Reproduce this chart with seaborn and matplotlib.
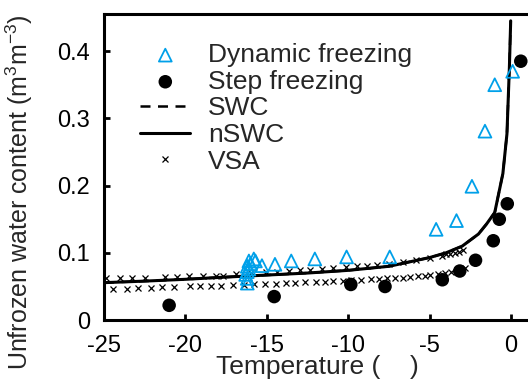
import numpy as np
import pandas as pd
import matplotlib
matplotlib.use("Agg")
import matplotlib.pyplot as plt
import seaborn as sns

# measured data
dyn_t = [0.1, -1.0, -1.6, -2.4, -3.35, -4.6, -7.45, -10.1, -12.05, -13.5, -14.5, -15.3, -15.7,
         -16.2, -16.2, -16.3, -16.2, -16.1, -16.2, -16.0, -16.1, -15.8]
dyn_w = [0.370, 0.350, 0.281, 0.199, 0.148, 0.135, 0.094, 0.094, 0.091, 0.088, 0.083, 0.081, 0.088,
         0.055, 0.062, 0.068, 0.072, 0.076, 0.080, 0.084, 0.088, 0.091]

step_t = [0.6, -0.23, -0.72, -1.09, -2.18, -3.15, -4.22, -7.74, -9.84, -14.55, -21.0]
step_w = [0.385, 0.173, 0.150, 0.118, 0.089, 0.073, 0.060, 0.050, 0.053, 0.035, 0.022]

# fitted curves
curve_t = [-25, -22.5, -20, -17.5, -15, -12.5, -10, -7.5, -5, -4, -3, -2, -1.5, -1, -0.5, -0.25, -0.1, -0.02]
nswc_w = [0.0557, 0.058, 0.0607, 0.064, 0.067, 0.070, 0.074, 0.080, 0.093, 0.100, 0.110, 0.128, 0.143,
          0.160, 0.218, 0.277, 0.376, 0.445]
swc_w = nswc_w

vsa_up_t = [-24.86, -23.99, -23.27, -22.49, -21.25, -20.49, -19.75, -18.95, -18.15, -17.70, -16.87, -15.97,
            -15.08, -14.40, -13.64, -12.96, -12.35, -11.58, -10.91, -10.14, -9.46, -8.85, -8.23, -7.47,
            -6.65, -5.82, -5.0, -4.22, -3.97, -3.73, -3.46, -3.21, -2.94]
vsa_up_w = [0.062, 0.062, 0.063, 0.063, 0.064, 0.064, 0.065, 0.065, 0.066, 0.066, 0.068, 0.070,
            0.071, 0.072, 0.073, 0.074, 0.075, 0.076, 0.077, 0.079, 0.080, 0.081, 0.082, 0.084,
            0.087, 0.089, 0.092, 0.096, 0.098, 0.099, 0.100, 0.102, 0.104]
vsa_lo_t = [-24.44, -23.58, -22.9, -22.14, -21.42, -20.68, -19.71, -19.09, -18.44, -17.82, -17.1, -16.42,
            -15.8, -15.14, -14.46, -13.85, -13.27, -12.65, -11.99, -11.44, -10.91, -10.35, -9.84, -9.22,
            -8.6, -8.09, -7.61, -7.12, -6.65, -6.19, -5.72, -5.31, -5.0, -4.49, -4.07, -3.66, -3.25, -2.84]
vsa_lo_w = [0.047, 0.047, 0.048, 0.048, 0.049, 0.049, 0.050, 0.050, 0.051, 0.051, 0.052, 0.052,
            0.053, 0.053, 0.054, 0.055, 0.055, 0.056, 0.057, 0.057, 0.058, 0.058, 0.059, 0.060,
            0.061, 0.061, 0.062, 0.063, 0.063, 0.064, 0.065, 0.066, 0.067, 0.069, 0.070, 0.072, 0.074, 0.077]

sns.set_theme(style="ticks")
plt.rcParams['font.family'] = ['Liberation Sans', 'DejaVu Sans']
plt.rcParams['axes.unicode_minus'] = False
plt.rcParams['mathtext.fontset'] = 'custom'
plt.rcParams['mathtext.rm'] = 'Liberation Sans'
plt.rcParams['mathtext.it'] = 'Liberation Sans'
blue = '#00A0E9'
fs = 17

fig = plt.figure(figsize=(5.28, 3.82), dpi=100)
ax = fig.add_axes([0.197, 0.162, 0.81, 0.801])

sns.lineplot(x=curve_t, y=swc_w, ax=ax, color='black', lw=1.8, linestyle=(0, (4, 3)), label='SWC', sort=True)
sns.lineplot(x=curve_t, y=nswc_w, ax=ax, color='black', lw=2.2, label='nSWC', sort=True)
ax.plot(vsa_up_t + vsa_lo_t, vsa_up_w + vsa_lo_w, ls='none', marker='x', ms=4, mew=0.9,
        color='black', label='VSA')
sns.scatterplot(x=dyn_t, y=dyn_w, ax=ax, marker='^', s=85, facecolor='none', edgecolor=blue,
                linewidth=1.3, label='Dynamic freezing', zorder=4)
sns.scatterplot(x=step_t, y=step_w, ax=ax, marker='o', s=95, color='black', edgecolor='none',
                label='Step freezing', zorder=4)

ax.set_xlim(-25, 1.27)
ax.set_ylim(0, 0.455)
ax.set_xticks([-25, -20, -15, -10, -5, 0])
ax.set_yticks([0, 0.1, 0.2, 0.3, 0.4])
ax.set_yticklabels(['0', '0.1', '0.2', '0.3', '0.4'])
ax.tick_params(direction='in', length=4, width=2, labelsize=fs, colors='black')
ax.tick_params(axis='x', pad=11)
ax.tick_params(axis='y', pad=10)
for s in ax.spines.values():
    s.set_linewidth(2.2)
    s.set_color('black')

ax.set_xlabel('Temperature (    )', fontsize=19)
ax.xaxis.set_label_coords(0.5, -0.115)
ax.set_ylabel('Unfrozen water content (m$^3$m$^{-3}$)', fontsize=18)
ax.yaxis.set_label_coords(-0.162, 0.42)

h, l = ax.get_legend_handles_labels()
order = [l.index(n) for n in ['Dynamic freezing', 'Step freezing', 'SWC', 'nSWC', 'VSA']]
ax.legend([h[i] for i in order], [l[i] for i in order], loc='upper left', frameon=False,
          fontsize=19, bbox_to_anchor=(0.06, 0.94), handlelength=1.9, handletextpad=0.68,
          labelspacing=0.1, borderaxespad=0)

fig.savefig('out.png', dpi=100)
